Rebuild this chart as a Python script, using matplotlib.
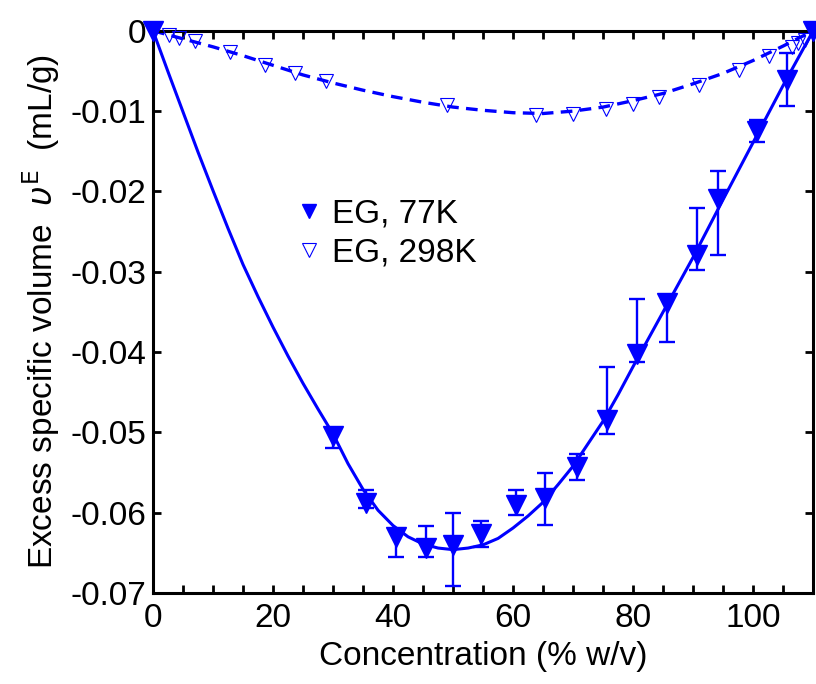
import numpy as np
import matplotlib
matplotlib.use('Agg')
import matplotlib.pyplot as plt

plt.rcParams['font.family'] = ['Liberation Sans', 'DejaVu Sans']
plt.rcParams['mathtext.fontset'] = 'dejavusans'

# EG at 77K (filled triangles, with error bars)
x77 = [0, 30, 35.5, 40.5, 45.5, 50, 54.7, 60.5, 65.4, 70.6, 75.6, 80.6, 85.6, 90.6, 94.1, 100.7, 105.7, 110]
y77 = [0, -0.0505, -0.0588, -0.0630, -0.0644, -0.0640, -0.0626, -0.0590, -0.0582, -0.0543,
       -0.0484, -0.0402, -0.0339, -0.0279, -0.0210, -0.0125, -0.0061, 0]
err_lo = [0, 0.0014, 0.0006, 0.0025, 0.0011, 0.0051, 0.0017, 0.0013, 0.0033, 0.0016,
          0.0018, 0.0010, 0.0048, 0.0019, 0.0069, 0.0013, 0.0033, 0]
err_hi = [0, 0.0010, 0.0016, 0.0010, 0.0027, 0.0040, 0.0016, 0.0018, 0.0032, 0.0016,
          0.0065, 0.0068, 0.0010, 0.0058, 0.0036, 0.0014, 0.0033, 0]

# EG at 298K (open triangles)
x298 = [0, 2.6, 4.4, 7.0, 12.9, 18.6, 23.7, 28.8, 49.0, 63.9, 70.0, 75.5, 80.0, 84.3,
        91.0, 97.6, 102.6, 106.5, 107.5, 108.7, 110]
y298 = [0, -0.0005, -0.0009, -0.0013, -0.0027, -0.0042, -0.0053, -0.0063, -0.0093, -0.0105,
        -0.0103, -0.0098, -0.0091, -0.0083, -0.0067, -0.0049, -0.0031, -0.0020, -0.0015, -0.0011, 0]

# fitted curves
xfit77 = [0, 2.5, 5, 7.5, 10, 12.5, 15, 17.5, 20, 22.5, 25, 27.5, 30, 32.5, 35, 37.5, 40, 42.5,
          45, 47.5, 50, 52.5, 55, 57.5, 60, 62.5, 65, 67.5, 70, 72.5, 75, 77.5, 80, 82.5, 85,
          87.5, 90, 95, 100, 105, 110]
yfit77 = [0, -0.0051, -0.0101, -0.0151, -0.0199, -0.0246, -0.0291, -0.0331, -0.0369, -0.0405,
          -0.0439, -0.0471, -0.0502, -0.0539, -0.0571, -0.0597, -0.0616, -0.0630, -0.0639,
          -0.0644, -0.0646, -0.0644, -0.0640, -0.0632, -0.0619, -0.0604, -0.0587, -0.0565,
          -0.0542, -0.0514, -0.0486, -0.0453, -0.0418, -0.0384, -0.0350, -0.0316, -0.0282,
          -0.0210, -0.0139, -0.0068, 0]
xfit298 = [0, 5, 10, 15, 20, 25, 30, 35, 40, 45, 50, 55, 60, 65, 70, 75, 80, 85, 90, 95, 100, 105, 110]
yfit298 = [0, -0.0010, -0.0020, -0.0031, -0.0043, -0.0055, -0.0065, -0.0074, -0.0082, -0.0089,
           -0.0095, -0.0099, -0.0102, -0.0103, -0.0100, -0.0095, -0.0087, -0.0078, -0.0066,
           -0.0053, -0.0037, -0.0019, 0]

blue = (0, 0, 1)
fs = 24

fig = plt.figure(figsize=(8.16, 6.84), dpi=100)
ax = fig.add_axes([0.1875, 0.133, 0.809, 0.822])

ax.plot(xfit77, yfit77, '-', color=blue, linewidth=2.2)
ax.plot(xfit298, yfit298, '--', color=blue, linewidth=2.4, dashes=(3.5, 2.2))
ax.errorbar(x77, y77, yerr=[err_lo, err_hi], fmt='none', ecolor=blue, elinewidth=1.7,
            capsize=6, capthick=1.7)
ax.plot(x77, y77, 'v', color=blue, markersize=14, linestyle='none', clip_on=False, zorder=5)
ax.plot(x298, y298, 'v', markerfacecolor='none', markeredgecolor=blue, markeredgewidth=0.8,
        markersize=10, linestyle='none', clip_on=False, zorder=5)

# legend
h1, = ax.plot([], [], 'v', color=blue, markersize=10, linestyle='none', label='EG, 77K')
h2, = ax.plot([], [], 'v', markerfacecolor='none', markeredgecolor=blue, markeredgewidth=0.8,
              markersize=10, linestyle='none', label='EG, 298K')
ax.legend(handles=[h1, h2], loc='upper left', bbox_to_anchor=(0.16, 0.755), frameon=False,
          fontsize=fs, handletextpad=0.1, handlelength=1.2, labelspacing=0.25)

ax.axis([0, 110, -0.07, 0])
ax.set_xticks([0, 20, 40, 60, 80, 100])
ax.set_xticks(np.arange(0, 111, 5), minor=True)
ax.set_xticklabels(['0', '20', '40', '60', '80', '100'], fontsize=fs)
yt = [0, -0.01, -0.02, -0.03, -0.04, -0.05, -0.06, -0.07]
ax.set_yticks(yt)
ax.set_yticklabels(['0', '-0.01', '-0.02', '-0.03', '-0.04', '-0.05', '-0.06', '-0.07'], fontsize=fs)
ax.tick_params(which='both', direction='in', top=True, right=True, width=2, length=6)
ax.tick_params(axis='x', pad=7)
ax.tick_params(axis='y', pad=5)
for axis in ['top', 'bottom', 'left', 'right']:
    ax.spines[axis].set_linewidth(2.2)

ax.set_xlabel('Concentration (% w/v)', fontsize=fs, labelpad=5)
ax.set_ylabel(r'Excess specific volume  $\upsilon^{\mathrm{E}}$  (mL/g)', fontsize=fs, labelpad=6)

plt.savefig('out.png', dpi=100)
